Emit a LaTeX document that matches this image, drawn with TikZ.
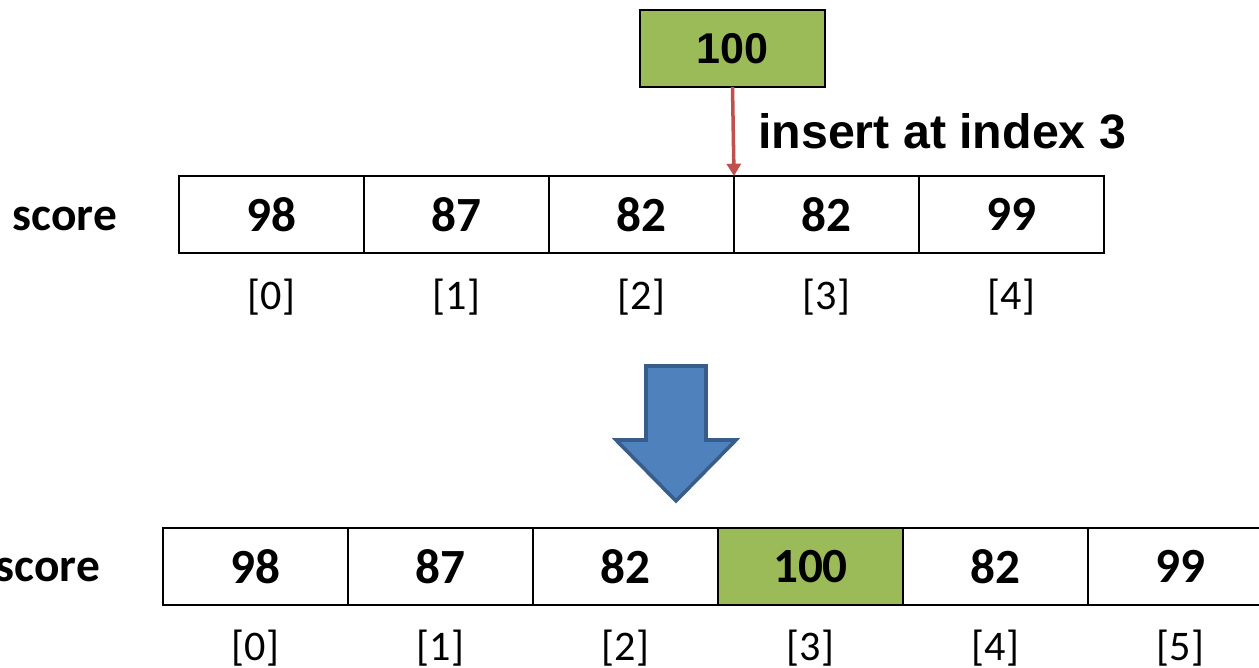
\documentclass[tikz,border=0pt]{standalone}
\usepackage{fontspec}
\setmainfont{Carlito}
\newfontfamily\arialfont{Liberation Sans}
\usetikzlibrary{arrows.meta}
\definecolor{cellgreen}{HTML}{9BBB59}
\definecolor{insertred}{HTML}{C0504D}
\definecolor{arrowblue}{HTML}{4F81BD}
\definecolor{arrowrim}{HTML}{385D8A}
\tikzset{
  cell/.style={draw, line width=1.1pt, inner sep=0pt, outer sep=0pt,
    minimum width=3.7cm, minimum height=1.54cm, font=\fontsize{28}{30}\selectfont\bfseries},
  idx/.style={inner sep=0pt, font=\fontsize{24}{26}\selectfont},
  arrname/.style={anchor=base, inner sep=0pt, font=\fontsize{27}{29}\selectfont\bfseries}
}
\begin{document}
\begin{tikzpicture}[x=0.02cm, y=-0.02cm]
				\useasboundingbox (0,0) rectangle (1259,668);

				% array before insertion
				\node[arrname] (name1) at (65,231) {score};
				\node[cell] (a0) at (271.5,214.5) {98};
				\node[cell] (a1) at (456.5,214.5) {87};
				\node[cell] (a2) at (641.5,214.5) {82};
				\node[cell] (a3) at (826.5,214.5) {82};
				\node[cell] (a4) at (1011.5,214.5) {99};
				\node[idx] (i0) at (271.5,297) {[0]};
				\node[idx] (i1) at (456.5,297) {[1]};
				\node[idx] (i2) at (641.5,297) {[2]};
				\node[idx] (i3) at (826.5,297) {[3]};
				\node[idx] (i4) at (1011.5,297) {[4]};

				% new value
				\node[cell, fill=cellgreen, font=\arialfont\fontsize{24.5}{26}\selectfont\bfseries] (new) at (732.5,48.5) {100};
				\node[anchor=west, font=\arialfont\fontsize{27.5}{29}\selectfont\bfseries] (lbl) at (752,131) {insert at index 3};
				\draw[draw=insertred, line width=2pt, -{Triangle[length=7pt,width=8pt]}]
				(new.south) -- (a3.north west);

				% big down arrow
				\draw[fill=arrowblue, draw=arrowrim, line width=2pt]
				(646,366) -- (706,366) -- (706,440) -- (736,440) -- (676,501) -- (616,440) -- (646,440) -- cycle;

				% array after insertion
				\node[arrname] (name2) at (48,582) {score};
				\node[cell] (b0) at (255.5,566.5) {98};
				\node[cell] (b1) at (440.5,566.5) {87};
				\node[cell] (b2) at (625.5,566.5) {82};
				\node[cell, fill=cellgreen] (b3) at (810.5,566.5) {100};
				\node[cell] (b4) at (995.5,566.5) {82};
				\node[cell] (b5) at (1180.5,566.5) {99};
				\node[idx] (j0) at (255.5,648) {[0]};
				\node[idx] (j1) at (440.5,648) {[1]};
				\node[idx] (j2) at (625.5,648) {[2]};
				\node[idx] (j3) at (810.5,648) {[3]};
				\node[idx] (j4) at (995.5,648) {[4]};
				\node[idx] (j5) at (1180.5,648) {[5]};
			\end{tikzpicture}
\end{document}
